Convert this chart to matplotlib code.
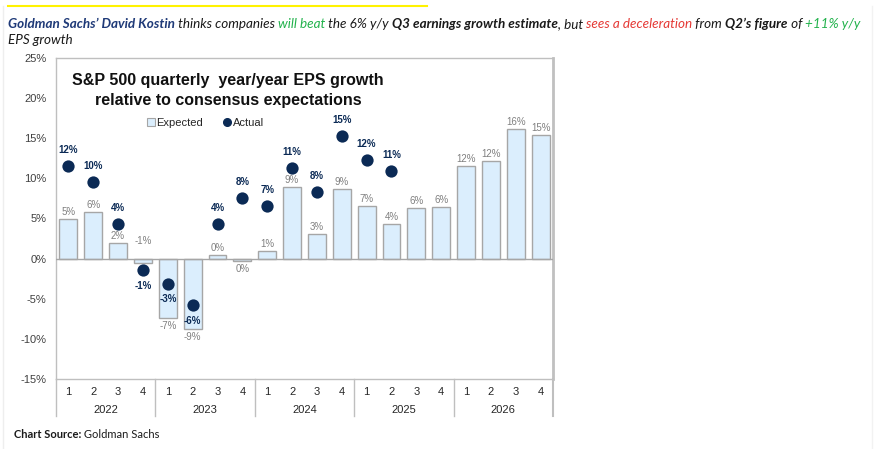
import numpy as np
import matplotlib.pyplot as plt
from matplotlib.patches import Patch
from matplotlib.lines import Line2D

# ==== data ====
years = ['2022', '2023', '2024', '2025', '2026']
quarters = ['1', '2', '3', '4']
expected = [5.0, 5.8, 2.0, -0.6, -7.4, -8.8, 0.5, -0.3, 0.9, 8.9, 3.1, 8.7,
            6.6, 4.3, 6.3, 6.4, 11.6, 12.2, 16.2, 15.4]
expected_labels = [5, 6, 2, -1, -7, -9, 0, 0, 1, 9, 3, 9, 7, 4, 6, 6, 12, 12, 16, 15]
actual = [11.6, 9.5, 4.3, -1.4, -3.1, -5.8, 4.3, 7.5, 6.6, 11.3, 8.3, 15.3,
          12.3, 10.9]
actual_labels = [12, 10, 4, -1, -3, -6, 4, 8, 7, 11, 8, 15, 12, 11]
yticks = [-15, -10, -5, 0, 5, 10, 15, 20, 25]

W, H = 875, 449
fig = plt.figure(figsize=(W / 100, H / 100), dpi=100)
plt.rcParams['font.family'] = ['Liberation Sans', 'DejaVu Sans']

def fx(px):
    return px / W

def fy(py):
    return 1 - py / H

# plot area in pixels
left, right, top, bottom = 56, 553, 58, 379
ax = fig.add_axes([fx(left), fy(bottom), fx(right - left), (bottom - top) / H])

n = len(expected)
x = np.arange(n)
bar_c = '#dbeefd'
edge_c = '#a6a6a6'
navy = '#0b2a55'
grey_txt = '#808080'

ax.bar(x, expected, width=0.72, color=bar_c, edgecolor=edge_c, linewidth=1.0, zorder=2)
ax.axhline(0, color='#a6a6a6', lw=1.0, zorder=3)
xa = np.arange(len(actual))
ax.scatter(xa, actual, s=78, color=navy, zorder=4, linewidths=0)

# bar labels (placed above the zero line when the actual dot sits below the bar)
for i, (v, lab) in enumerate(zip(expected, expected_labels)):
    a = actual[i] if i < len(actual) else None
    if v >= 0:
        ax.annotate(f'{lab}%', (i, v), xytext=(0, 5), textcoords='offset points',
                    ha='center', va='center', fontsize=7, color=grey_txt)
    elif a is not None and a < v:
        ax.annotate(f'{lab}%', (i, 0), xytext=(0, 13), textcoords='offset points',
                    ha='center', va='center', fontsize=7, color=grey_txt)
    else:
        ax.annotate(f'{lab}%', (i, v), xytext=(0, -5.5), textcoords='offset points',
                    ha='center', va='center', fontsize=7, color=grey_txt)

# actual labels
for i, (v, lab) in enumerate(zip(actual, actual_labels)):
    off = 11.5 if v >= 0 else -11.5
    ax.annotate(f'{lab}%', (i, v), xytext=(0, off), textcoords='offset points',
                ha='center', va='center', fontsize=7, color=navy, fontweight='bold')

ax.set_xlim(-0.5, n - 0.5)
ax.set_ylim(-15, 25)
ax.set_yticks(yticks)
ax.set_yticklabels([f'{t}%' for t in yticks])
ax.tick_params(axis='y', length=0, pad=7, labelsize=8, labelcolor='#404040')
ax.set_xticks([])
for s in ['left', 'top', 'bottom']:
    ax.spines[s].set_color('#bfbfbf')
    ax.spines[s].set_linewidth(1.0)
ax.spines['right'].set_color('#c0c0c0')
ax.spines['right'].set_linewidth(2.0)

# category axis below the plot
trans = ax.get_xaxis_transform()
q_y = -(392 - bottom) / (bottom - top)
y_y = -(410 - bottom) / (bottom - top)
sep_y = -(416 - bottom) / (bottom - top)
for i in range(n):
    ax.text(i, q_y, quarters[i % 4], transform=trans, ha='center', va='center',
            fontsize=8, color='#262626')
for k, yr in enumerate(years):
    ax.text(4 * k + 1.5, y_y, yr, transform=trans, ha='center', va='center',
            fontsize=8, color='#262626')
for k in range(len(years) + 1):
    ax.plot([4 * k - 0.5, 4 * k - 0.5], [0, sep_y], transform=trans, color='#bfbfbf',
            lw=1.5 if k == len(years) else 1.0, clip_on=False)

# chart title inside plot
fig.text(fx(228), fy(81), 'S&P 500 quarterly  year/year EPS growth', ha='center',
         va='center', fontsize=11.5, fontweight='bold', color='#111111')
fig.text(fx(228), fy(100), 'relative to consensus expectations', ha='center',
         va='center', fontsize=11.5, fontweight='bold', color='#111111')

# legend
handles = [Patch(facecolor=bar_c, edgecolor=edge_c, linewidth=0.8),
           Line2D([], [], marker='o', color=navy, linestyle='', markersize=5.5)]
fig.legend(handles, ['Expected', 'Actual'], loc='center left',
           bbox_to_anchor=(fx(147), fy(123)), ncol=2, frameon=False, fontsize=8,
           handlelength=0.7, handleheight=0.7, handletextpad=0.15, columnspacing=1.8,
           labelcolor='#262626', borderpad=0, borderaxespad=0)

# header / footer
fig.add_artist(Line2D([fx(8), fx(427)], [fy(6), fy(6)], color='#fff200', lw=1.5))
fig.add_artist(Line2D([fx(3), fx(3)], [fy(6), fy(448)], color='#eeeeee', lw=1))
fig.add_artist(Line2D([fx(872), fx(872)], [fy(6), fy(448)], color='#f2f2f2', lw=1))

renderer = fig.canvas.get_renderer()

def rich_line(x0, y0, parts, size):
    xpos = x0
    for txt, color, weight, style in parts:
        t = fig.text(fx(xpos), fy(y0), txt, fontsize=size, color=color,
                     fontweight=weight, fontstyle=style, va='baseline',
                     family=['Lato', 'DejaVu Sans'])
        xpos += t.get_window_extent(renderer=renderer).width

green = '#22b24c'
red = '#e53935'
dark = '#1a1a1a'
rich_line(8, 28, [
    ("Goldman Sachs\u2019 David Kostin", '#1f3a78', 'bold', 'italic'),
    (' thinks companies ', dark, 'normal', 'italic'),
    ('will beat', green, 'normal', 'italic'),
    (' the 6% y/y ', dark, 'normal', 'italic'),
    ('Q3 earnings growth estimate', dark, 'bold', 'italic'),
    (', but ', dark, 'normal', 'italic'),
    ('sees a deceleration', red, 'normal', 'italic'),
    (' from ', dark, 'normal', 'italic'),
    ("Q2\u2019s figure", dark, 'bold', 'italic'),
    (' of ', dark, 'normal', 'italic'),
    ('+11% y/y', green, 'normal', 'italic'),
], 9.7)
rich_line(8, 44, [('EPS growth', dark, 'normal', 'italic')], 9.7)
rich_line(14, 438, [('Chart Source:', dark, 'bold', 'normal'),
                    (' Goldman Sachs', dark, 'normal', 'normal')], 8)

fig.savefig('out.png', dpi=100)
